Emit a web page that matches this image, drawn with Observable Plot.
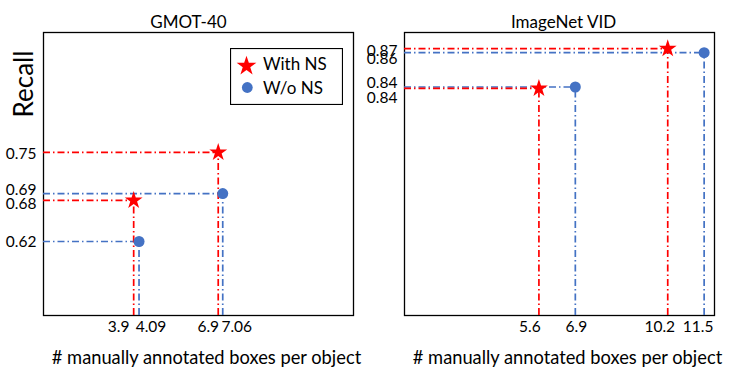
<!DOCTYPE html>
<html><head><meta charset="utf-8">
<script src="https://cdn.jsdelivr.net/npm/d3@7"></script>
<script src="https://cdn.jsdelivr.net/npm/@observablehq/plot@0.6"></script>
<style>
body{margin:0;background:#fff;font-family:Lato,"Open Sans",sans-serif;}
#wrap{position:relative;width:735px;height:379px;overflow:hidden;background:#fff}
.panel{position:absolute;top:0}
#legend{position:absolute;left:230px;top:48px}
#recall{position:absolute;left:23px;top:84px;transform:translate(-50%,-50%) rotate(-90deg);font-size:26px;line-height:1;white-space:nowrap;color:#000}
</style></head><body>
<div id="wrap">
  <div id="left" class="panel" style="left:0"></div>
  <div id="right" class="panel" style="left:367px"></div>
  <div id="legend"></div>
  <div id="recall"></div>
</div>
<script>
// ---- data ----
const seriesNames = ["With NS", "W/o NS"];
const gmotWithX = [3.9, 6.9];
const gmotWithY = [0.68, 0.75];
const gmotWoX = [4.09, 7.06];
const gmotWoY = [0.62, 0.69];
const gmotXTicks = [3.9, 4.09, 6.9, 7.06];
const gmotXTickLabels = ["3.9", "4.09", "6.9", "7.06"];
const gmotYTicks = [0.75, 0.69, 0.68, 0.62];
const gmotYTickLabels = ["0.75", "0.69", "0.68", "0.62"];

const vidWithX = [5.6, 10.2];
const vidWithY = [0.838, 0.867];
const vidWoX = [6.9, 11.5];
const vidWoY = [0.839, 0.864];
const vidXTicks = [5.6, 6.9, 10.2, 11.5];
const vidXTickLabels = ["5.6", "6.9", "10.2", "11.5"];
const vidYTicks = [0.867, 0.864, 0.839, 0.838];
const vidYTickLabels = ["0.87", "0.86", "0.84", "0.84"];

const xAxisLabel = "# manually annotated boxes per object";
const yAxisLabel = "Recall";

// ---- styles ----
const RED = "#FF0000", BLUE = "#4472C4";
const DASH = "7,3,1.5,3";
const FONT = "Lato, 'Open Sans', sans-serif";

function panel(o) {
  const withRows = o.withX.map((x, i) => ({x, y: o.withY[i]}));
  const woRows = o.woX.map((x, i) => ({x, y: o.woY[i]}));
  const marks = [
    Plot.frame({stroke: "#000", strokeWidth: 1.3}),
    Plot.ruleY(woRows, {y: "y", x1: o.xDomain[0], x2: "x", stroke: BLUE, strokeWidth: 1.7, strokeDasharray: DASH}),
    Plot.ruleX(woRows, {x: "x", y1: o.yDomain[0], y2: "y", stroke: BLUE, strokeWidth: 1.7, strokeDasharray: DASH}),
    Plot.ruleY(withRows, {y: "y", x1: o.xDomain[0], x2: "x", stroke: RED, strokeWidth: 1.7, strokeDasharray: DASH}),
    Plot.ruleX(withRows, {x: "x", y1: o.yDomain[0], y2: "y", stroke: RED, strokeWidth: 1.7, strokeDasharray: DASH}),
    Plot.dot(woRows, {x: "x", y: "y", r: 5.5, fill: BLUE, stroke: null}),
    Plot.dot(withRows, {x: "x", y: "y", r: 5.6, symbol: "star", fill: RED, stroke: null}),
    Plot.text([o.title], {text: d => d, frameAnchor: "top", dy: -17, dx: o.titleDx, fontSize: 17, fill: "#000"}),
    Plot.text([xAxisLabel], {text: d => d, frameAnchor: "bottom", dy: 48, dx: 8, fontSize: 18.3, fill: "#000"})
  ];
  o.xTicks.forEach((t, i) => marks.push(
    Plot.text([t], {x: d => d, text: () => o.xLabels[i], frameAnchor: "bottom", dy: 16, dx: o.xNudge[i], fontSize: 15.5, fill: "#000"})
  ));
  o.yTicks.forEach((t, i) => marks.push(
    Plot.text([t], {y: d => d, text: () => o.yLabels[i], frameAnchor: "left", textAnchor: "end", dx: -7, dy: o.yNudge[i], fontSize: 15.5, fill: "#000"})
  ));
  return Plot.plot({
    width: o.width, height: 379,
    marginLeft: o.marginLeft, marginRight: o.marginRight, marginTop: 32, marginBottom: 64,
    x: {domain: o.xDomain, axis: null},
    y: {domain: o.yDomain, axis: null},
    style: {fontFamily: FONT, background: "transparent", overflow: "visible"},
    marks
  });
}

document.getElementById("left").append(panel({
  title: "GMOT-40", titleDx: -10,
  withX: gmotWithX, withY: gmotWithY, woX: gmotWoX, woY: gmotWoY,
  xTicks: gmotXTicks, xLabels: gmotXTickLabels, xNudge: [-15, 12, -10, 14],
  yTicks: gmotYTicks, yLabels: gmotYTickLabels, yNudge: [2, -3, 4, 1],
  xDomain: [0.7, 11.7], yDomain: [0.512, 0.925],
  width: 367, marginLeft: 43, marginRight: 14
}));

document.getElementById("right").append(panel({
  title: "ImageNet VID", titleDx: 4,
  withX: vidWithX, withY: vidWithY, woX: vidWoX, woY: vidWoY,
  xTicks: vidXTicks, xLabels: vidXTickLabels, xNudge: [-9, 1, -8, -6],
  yTicks: vidYTicks, yLabels: vidYTickLabels, yNudge: [2, 6, -4, 10],
  xDomain: [0.8, 11.87], yDomain: [0.6726, 0.8787],
  width: 368, marginLeft: 37, marginRight: 21
}));

document.getElementById("recall").textContent = yAxisLabel;

// ---- legend ----
const lg = d3.select("#legend").append("svg").attr("width", 113).attr("height", 57)
  .style("font-family", FONT);
lg.append("rect").attr("x", 0.5).attr("y", 0.5).attr("width", 112).attr("height", 56)
  .attr("fill", "#fff").attr("stroke", "#000").attr("stroke-width", 1.2);
lg.append("path").attr("transform", "translate(16.5,18)")
  .attr("d", d3.symbol(d3.symbolStar, Math.PI * 6.2 * 6.2)()).attr("fill", RED);
lg.append("circle").attr("cx", 17.3).attr("cy", 39.5).attr("r", 5.4).attr("fill", BLUE);
seriesNames.forEach((s, i) => {
  lg.append("text").attr("x", 33).attr("y", 16 + i * 24).attr("dy", "0.35em")
    .attr("font-size", 17).text(s);
});
</script>
</body></html>
